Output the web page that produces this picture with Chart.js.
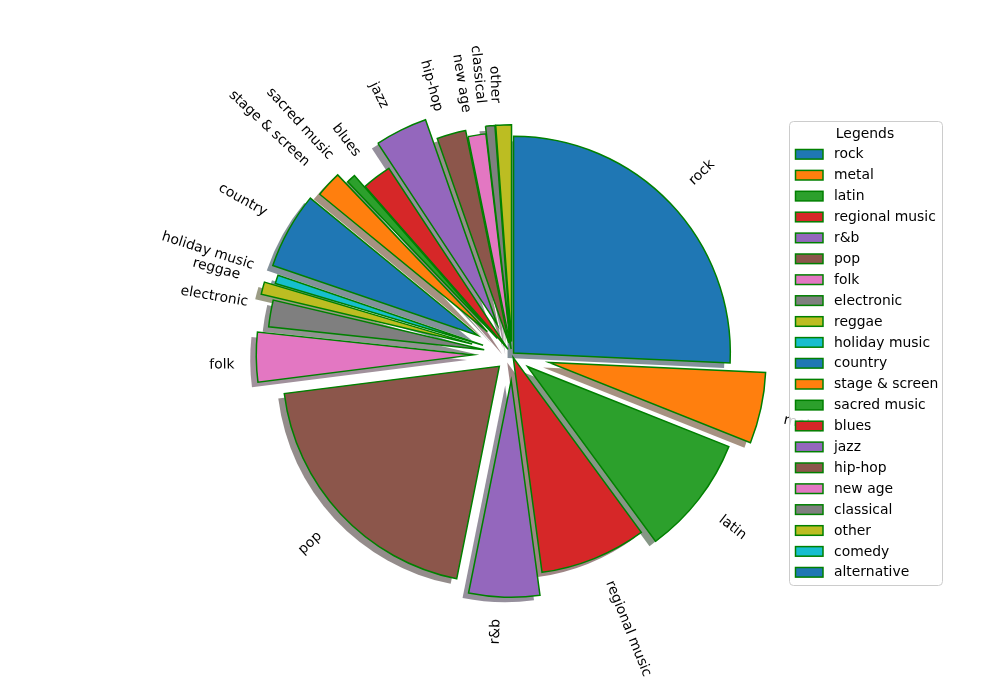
<!DOCTYPE html>
<html>
<head>
<meta charset="utf-8">
<script src="https://cdn.jsdelivr.net/npm/chart.js@4.4.0/dist/chart.umd.min.js"></script>
<style>
  html, body { margin: 0; padding: 0; background: #fff; }
</style>
</head>
<body>
<canvas id="genreChart" width="1000" height="700"></canvas>
<script>
// genres, clockwise from 12 o'clock
const genres = ["rock", "metal", "latin", "regional music", "r&b", "pop", "folk",
  "electronic", "reggae", "holiday music", "country", "stage & screen",
  "sacred music", "blues", "jazz", "hip-hop", "new age", "classical",
  "other", "comedy", "alternative"];
const counts = [927, 191, 321, 286, 190, 715, 133, 72, 33, 23, 205, 70,
  24, 79, 141, 78, 48, 25, 42, 0, 0];
// matplotlib style explode, fraction of radius
const explode = [0.01, 0.175, 0.09, 0.015, 0.12, 0.08, 0.18, 0.13, 0.19, 0.14,
  0.18, 0.155, 0.1, 0.03, 0.155, 0.055, 0.025, 0.06, 0.06, 0.05, 0.05];

const tab10 = ["#1f77b4", "#ff7f0e", "#2ca02c", "#d62728", "#9467bd",
  "#8c564b", "#e377c2", "#7f7f7f", "#bcbd22", "#17becf"];
const colors = genres.map((g, i) => tab10[i % 10]);

const FONT = '13.9px "DejaVu Sans"';

function shadowColor(hex) {
  const r = parseInt(hex.slice(1, 3), 16), g = parseInt(hex.slice(3, 5), 16), b = parseInt(hex.slice(5, 7), 16);
  return "rgba(" + Math.round(r * 0.3) + "," + Math.round(g * 0.3) + "," + Math.round(b * 0.3) + ",0.5)";
}

const mplPie = {
  id: "mplPie",
  beforeDatasetDraw(chart, args) {
    const ctx = chart.ctx;
    const arcs = args.meta.data;
    // shadows first, like matplotlib
    arcs.forEach((arc, i) => {
      if (!counts[i]) return;
      const mid = (arc.startAngle + arc.endAngle) / 2;
      const d = explode[i] * arc.outerRadius;
      ctx.save();
      ctx.translate(Math.cos(mid) * d - 6, Math.sin(mid) * d + 5);
      ctx.beginPath();
      ctx.moveTo(arc.x, arc.y);
      ctx.arc(arc.x, arc.y, arc.outerRadius, arc.startAngle, arc.endAngle);
      ctx.closePath();
      ctx.fillStyle = shadowColor(colors[i]);
      ctx.fill();
      ctx.restore();
    });
    arcs.forEach((arc, i) => {
      if (!counts[i]) return;
      const mid = (arc.startAngle + arc.endAngle) / 2;
      const d = explode[i] * arc.outerRadius;
      ctx.save();
      ctx.translate(Math.cos(mid) * d, Math.sin(mid) * d);
      arc.draw(ctx);
      ctx.restore();
    });
    return false;
  },
  afterDraw(chart) {
    const ctx = chart.ctx;
    const arcs = chart.getDatasetMeta(0).data;
    ctx.save();
    ctx.font = FONT;
    ctx.fillStyle = "#000";
    ctx.textAlign = "center";
    ctx.textBaseline = "middle";
    // rotated wedge labels (rotatelabels=True)
    arcs.forEach((arc, i) => {
      if (!counts[i]) return;
      const R = arc.outerRadius;
      const mid = (arc.startAngle + arc.endAngle) / 2;
      const d = explode[i] * R;
      const lx = arc.x + Math.cos(mid) * (d + 1.1 * R);
      const ly = arc.y + Math.sin(mid) * (d + 1.1 * R);
      const right = Math.cos(mid) > 0;
      const up = Math.sin(mid) < 0;
      const th = -mid + (right ? 0 : Math.PI);
      const w = ctx.measureText(genres[i]).width, h = 15;
      const hx = Math.abs(w / 2 * Math.cos(th)) + Math.abs(h / 2 * Math.sin(th));
      const hy = Math.abs(w / 2 * Math.sin(th)) + Math.abs(h / 2 * Math.cos(th));
      ctx.save();
      ctx.translate(right ? lx + hx : lx - hx, up ? ly - hy : ly + hy);
      ctx.rotate(-th);
      ctx.fillText(genres[i], 0, 0);
      ctx.restore();
    });

    // legend box
    const bx = 789.5, by = 121.5, bw = 153, bh = 464;
    ctx.beginPath();
    ctx.roundRect(bx, by, bw, bh, 4);
    ctx.fillStyle = "rgba(255,255,255,0.8)";
    ctx.fill();
    ctx.strokeStyle = "#cccccc";
    ctx.lineWidth = 1;
    ctx.stroke();
    ctx.fillStyle = "#000";
    ctx.fillText("Legends", 865, 134);
    ctx.textAlign = "left";
    genres.forEach((g, i) => {
      const cy = 154.3 + i * 20.9;
      ctx.fillStyle = colors[i];
      ctx.fillRect(795.5, cy - 4.8, 27.5, 9.6);
      ctx.strokeStyle = "green";
      ctx.lineWidth = 1.5;
      ctx.strokeRect(795.5, cy - 4.8, 27.5, 9.6);
      ctx.fillStyle = "#000";
      ctx.fillText(g, 834, cy + 0.5);
    });
    ctx.restore();
  }
};

new Chart(document.getElementById("genreChart"), {
  type: "pie",
  data: {
    labels: genres,
    datasets: [{
      data: counts,
      backgroundColor: colors,
      borderColor: "green",
      borderWidth: 1.5,
      borderJoinStyle: "miter",
      hoverOffset: 0,
      offset: 0
    }]
  },
  options: {
    responsive: false,
    animation: false,
    devicePixelRatio: 1,
    layout: { padding: { left: 294, right: 270, top: 137, bottom: 128 } },
    plugins: {
      legend: { display: false },
      tooltip: { enabled: false }
    }
  },
  plugins: [mplPie]
});
</script>
</body>
</html>
